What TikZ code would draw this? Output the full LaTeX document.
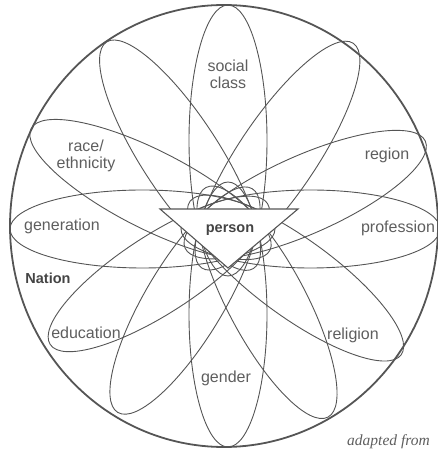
\documentclass[tikz,border=0pt]{standalone}
\usepackage{fontspec}
\setmainfont{Liberation Sans}
\newfontfamily\serifit{Liberation Serif}
\definecolor{linegray}{HTML}{555555}
\definecolor{textgray}{HTML}{5E5E5E}
\definecolor{boldgray}{HTML}{444444}
\tikzset{
  ell/.style={draw=linegray, line width=0.9pt},
  lbl/.style={text=textgray, font=\fontsize{16}{17}\selectfont, align=center, inner sep=0pt},
  boldlbl/.style={text=boldgray, font=\fontsize{14.5}{16}\selectfont\bfseries, inner sep=0pt},
}
\begin{document}
\begin{tikzpicture}[x=1pt,y=1pt]
\useasboundingbox (0,0) rectangle (438,449);
\coordinate (P) at (228,220);
% ellipses
\foreach \ang/\tip in {0/212, 24/216, 56/224, 90/224, 123/223, 153/221, 180/218, -147/212, -121/214, -90/218, -62/213, -36/214}{
  \pgfmathsetmacro\ea{(\tip+47)/2}
  \pgfmathsetmacro\ed{(\tip-47)/2}
  \draw[ell, shift={(P)}, rotate=\ang] (\ed,0) ellipse [x radius=\ea pt, y radius=39pt];
}
% outer circle (Nation)
\draw[draw=linegray, line width=1.8pt] (224,223) ellipse [x radius=214pt, y radius=221pt];
% person triangle
\draw[draw=linegray, line width=1.1pt, fill=white] (160,240) coordinate (t1) -- (298,240) coordinate (t2) -- (228,181) coordinate (t3) -- cycle;
\node[boldlbl] (person) at (230,219) {person};
\node[boldlbl] (nation) at (48,171) {Nation};
% labels
\node[lbl] (social) at (228,375) {social\\class};
\node[lbl] (region) at (387,294) {region};
\node[lbl] (profession) at (398,221) {profession};
\node[lbl] (religion) at (353,114) {religion};
\node[lbl] (gender) at (226,71) {gender};
\node[lbl] (education) at (86,116) {education};
\node[lbl] (generation) at (62,223) {generation};
\node[lbl] (race) at (86,293) {race/\\ethnicity};
\node[anchor=base west, inner sep=0pt, text=textgray, font=\serifit\itshape\fontsize{15.5}{17}\selectfont] (adapted) at (347,4) {adapted from};
\end{tikzpicture}
\end{document}
